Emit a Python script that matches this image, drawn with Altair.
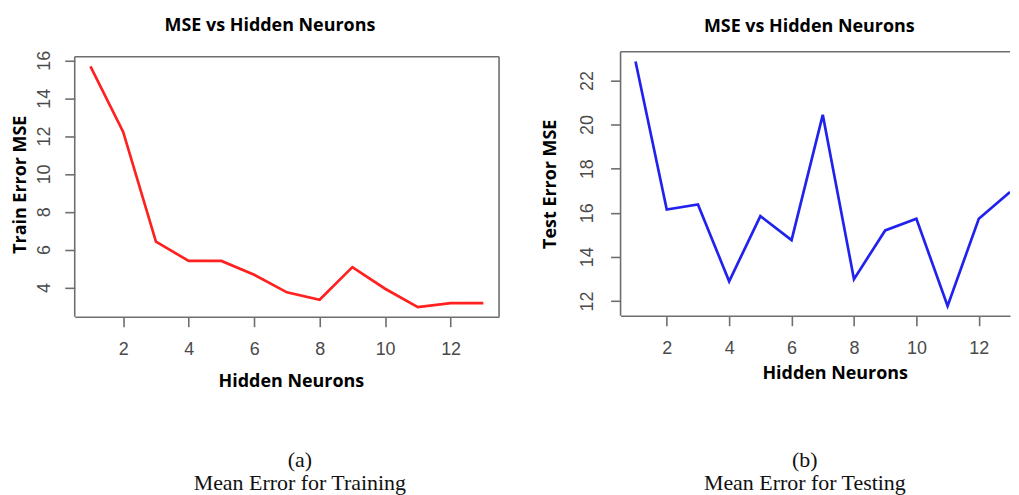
import altair as alt
import pandas as pd

neurons = list(range(1, 14))
train_mse = [15.68, 12.22, 6.42, 5.40, 5.40, 4.67, 3.74, 3.35, 5.07, 3.93, 2.96, 3.17, 3.17]
test_mse = [22.86, 16.15, 16.38, 12.89, 15.85, 14.76, 20.44, 12.99, 15.20, 15.73, 11.77, 15.73, 16.94]
x_ticks = [2, 4, 6, 8, 10, 12]
train_y_ticks = [4, 6, 8, 10, 12, 14, 16]
test_y_ticks = [12, 14, 16, 18, 20, 22]
plot_title = "MSE vs Hidden Neurons"
y_titles = ["Train Error MSE", "Test Error MSE"]
x_title = "Hidden Neurons"
panel_labels = ["(a)", "(b)"]
captions = ["Mean Error for Training", "Mean Error for Testing"]

AXIS_GREY = "#6e6e6e"
LABEL_GREY = "#4a4a4a"
SW = 1.6


def axis_common(**kw):
    base = dict(
        grid=False,
        labelFont="Liberation Sans",
        labelFontSize=18,
        labelColor=LABEL_GREY,
        titleFont="Open Sans",
        titleFontWeight="bold",
        titleFontSize=18,
        titleColor="black",
        domainColor=AXIS_GREY,
        domainWidth=SW,
        tickColor=AXIS_GREY,
        tickWidth=SW,
        tickSize=10,
        labelOverlap=False,
    )
    base.update(kw)
    return alt.Axis(**base)


def panel(values, color, ytitle, yticks, ydomain, xdomain, W, H, box_top,
          title_dx, x_title_pad, x_title_x,
          y_label_pad, y_title_pad, label, caption, cap_x, cap_y,
          right_border=True):
    df = pd.DataFrame({"n": neurons, "mse": values})
    line = alt.Chart(df).mark_line(color=color, strokeWidth=2.7, clip=True).encode(
        x=alt.X("n:Q", scale=alt.Scale(domain=xdomain, nice=False, zero=False),
                axis=axis_common(values=x_ticks, title=x_title, labelPadding=14,
                                 titlePadding=x_title_pad, titleX=x_title_x, format="d")),
        y=alt.Y("mse:Q", scale=alt.Scale(domain=ydomain, nice=False, zero=False),
                axis=axis_common(values=yticks, title=ytitle, labelAngle=270,
                                 labelPadding=y_label_pad, titlePadding=y_title_pad,
                                 domain=False, format="d")),
    )
    cap_df = pd.DataFrame({"t": [label]})
    t1 = alt.Chart(cap_df).mark_text(font="Liberation Serif", fontSize=22, color="#111",
                                     baseline="middle", align="center").encode(
        text="t:N", x=alt.value(cap_x), y=alt.value(cap_y))
    cap_df2 = pd.DataFrame({"t": [caption]})
    t2 = alt.Chart(cap_df2).mark_text(font="Liberation Serif", fontSize=22, color="#111",
                                      baseline="middle", align="center").encode(
        text="t:N", x=alt.value(cap_x), y=alt.value(cap_y + 23))
    # plot frame
    top = alt.Chart(cap_df).mark_rule(color=AXIS_GREY, strokeWidth=SW).encode(
        x=alt.value(0), x2=alt.value(W), y=alt.value(box_top))
    left = alt.Chart(cap_df).mark_rule(color=AXIS_GREY, strokeWidth=SW).encode(
        x=alt.value(0), y=alt.value(box_top), y2=alt.value(H))
    layers = [line, t1, t2, top, left]
    if right_border:
        right = alt.Chart(cap_df).mark_rule(color=AXIS_GREY, strokeWidth=SW).encode(
            x=alt.value(W), y=alt.value(box_top), y2=alt.value(H))
        layers.append(right)
    return alt.layer(*layers).properties(
        width=W, height=H,
        view=alt.ViewBackground(stroke=None),
        title=alt.TitleParams(plot_title, font="Open Sans", fontWeight="bold", fontSize=18,
                              offset=15, anchor="middle", frame="group", dx=title_dx),
    )


# panel (a): frame starts 5px below the top of the view
p1 = panel(train_mse, "#ff2020", y_titles[0], train_y_ticks, [2.45, 16.453], [0.52, 13.48],
           426, 266, 5, -17, 14, 217, 11, 6, panel_labels[0], captions[0], 226, 410)
p2 = panel(test_mse, "#2222ee", y_titles[1], test_y_ticks, [11.33, 23.3], [0.52, 13.0],
           391, 265, 0, -6, 7, 215, 14, 19, panel_labels[1], captions[1], 185, 410,
           right_border=False)

chart = alt.hconcat(p1, p2, spacing=41).properties(
    padding={"left": 3, "top": 8, "right": 0, "bottom": 0}
).configure(background="white")

chart.save("out.html", embed_options={"renderer": "svg", "actions": False})
